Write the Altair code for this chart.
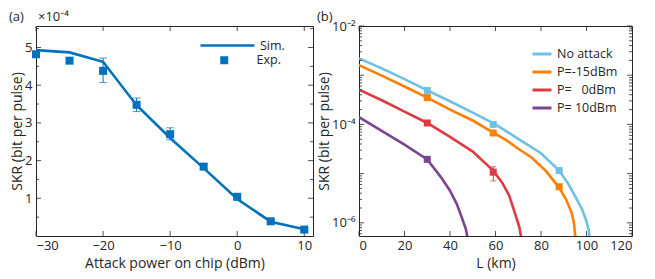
import altair as alt
import pandas as pd

FONT = "Open Sans"
INK = "#262626"
BLUE = "#0072BD"

# ---------------- panel (a) data ----------------
power_dbm = [-30, -25, -20, -15, -10, -5, 0, 5, 10]
sim_skr = [4.93, 4.87, 4.62, 3.47, 2.60, 1.80, 0.98, 0.38, 0.18]
exp_skr = [4.82, 4.65, 4.38, 3.48, 2.70, 1.84, 1.04, 0.39, 0.17]
exp_low = [4.79, 4.61, 4.07, 3.30, 2.55, 1.77, 0.96, 0.36, 0.14]
exp_high = [4.85, 4.69, 4.72, 3.66, 2.87, 1.91, 1.12, 0.42, 0.20]

a_xticks = [-30, -20, -10, 0, 10]
a_yticks = [1, 2, 3, 4, 5]
a_yminor = [0.5, 1.5, 2.5, 3.5, 4.5, 5.5]

# ---------------- panel (b) data ----------------
series_names = ["No attack", "P=-15dBm", "P=\u00a0\u00a0\u00a00dBm", "P=\u00a010dBm"]
series_colors = ["#6EC1E4", "#FF8000", "#DD3A44", "#7B4590"]

L_none = [0, 10, 20, 30, 40, 50, 60, 70, 80, 88, 92, 95, 98, 100, 101, 101.6]
skr_none = [2.2e-3, 1.38e-3, 8.3e-4, 4.9e-4, 2.95e-4, 1.74e-4, 1.0e-4, 5.1e-5,
            2.6e-5, 1.15e-5, 6.2e-6, 3.5e-6, 1.9e-6, 1.07e-6, 7.1e-7, 3.2e-7]
L_m15 = [0, 10, 20, 30, 40, 50, 59, 65, 70, 76, 82, 88, 91, 93.5, 94.5, 95.3]
skr_m15 = [1.6e-3, 9.8e-4, 5.9e-4, 3.5e-4, 2.0e-4, 1.2e-4, 6.8e-5, 4.7e-5,
           3.2e-5, 2.1e-5, 1.15e-5, 5.2e-6, 3.0e-6, 1.6e-6, 9.8e-7, 4.2e-7]
L_0 = [0, 10, 20, 30, 40, 50, 59, 63, 66, 69, 70.5, 71.6]
skr_0 = [5.1e-4, 3.1e-4, 1.82e-4, 1.07e-4, 5.6e-5, 2.8e-5, 1.15e-5, 6.5e-6,
         3.6e-6, 1.35e-6, 8.1e-7, 4.2e-7]
L_10 = [0, 10, 20, 30, 36, 40, 43, 45.5, 47, 48]
skr_10 = [1.4e-4, 7.4e-5, 3.9e-5, 1.95e-5, 8.5e-6, 4.5e-6, 2.4e-6, 1.17e-6, 7.4e-7, 4.2e-7]

mark_series = [0, 0, 0, 1, 1, 1, 2, 2, 3]
mark_L = [30, 59, 88, 30, 59, 88, 30, 59, 30]
mark_skr = [4.9e-4, 1.0e-4, 1.15e-5, 3.5e-4, 6.7e-5, 5.4e-6, 1.07e-4, 1.07e-5, 1.95e-5]
err_series = [2]
err_L = [59]
err_low = [7.1e-6]
err_high = [1.38e-5]

b_xticks = [0, 20, 40, 60, 80, 100, 120]
b_ymajor = [1e-6, 1e-5, 1e-4, 1e-3, 1e-2]
b_yminor = [k * 10.0 ** e for e in (-7, -6, -5, -4, -3) for k in range(2, 10)
            if 5.4e-7 <= k * 10.0 ** e <= 1e-2]

# ---------------- common ----------------
W_A, W_B, H = 277, 273, 210
TICK, MINOR = 5, 3


def inner_ticks(xvals, yvals, yminor, xscale, yscale, xaxis, yaxis, W):
    layers = []
    dx = pd.DataFrame({"x": xvals})
    for y0, y1 in ((H, H - TICK), (0, TICK)):
        layers.append(alt.Chart(dx).mark_rule(color=INK, strokeWidth=0.8).encode(
            x=alt.X("x:Q", scale=xscale, axis=xaxis),
            y=alt.value(y0), y2=alt.value(y1)))
    for vals, ln in ((yvals, TICK), (yminor, MINOR)):
        dy = pd.DataFrame({"y": vals})
        for x0, x1 in ((0, ln), (W, W - ln)):
            layers.append(alt.Chart(dy).mark_rule(color=INK, strokeWidth=0.8).encode(
                y=alt.Y("y:Q", scale=yscale, axis=yaxis),
                x=alt.value(x0), x2=alt.value(x1)))
    return layers


def label_text(txt, dx, dy):
    return alt.Chart(pd.DataFrame({"t": [txt]})).mark_text(
        align="left", baseline="alphabetic", fontSize=13, font=FONT, color=INK).encode(
        text="t:N", x=alt.value(dx), y=alt.value(dy))


# ---------------- panel (a) ----------------
xs_a = alt.Scale(domain=[-30, 11.3], nice=False, zero=False)
ys_a = alt.Scale(domain=[0, 5.57], nice=False, zero=False)
xa_a = alt.Axis(values=a_xticks, title="Attack power on chip (dBm)")
ya_a = alt.Axis(values=a_yticks, title="SKR (bit per pulse)")

df_sim = pd.DataFrame({"P": power_dbm, "SKR": sim_skr, "name": ["Sim."] * len(power_dbm)})
df_exp = pd.DataFrame({"P": power_dbm, "SKR": exp_skr, "lo": exp_low, "hi": exp_high,
                       "name": ["Exp."] * len(power_dbm)})

sim_line = alt.Chart(df_sim).mark_line(strokeWidth=2.6, color=BLUE).encode(
    x=alt.X("P:Q", scale=xs_a, axis=xa_a),
    y=alt.Y("SKR:Q", scale=ys_a, axis=ya_a),
    color=alt.Color("name:N", scale=alt.Scale(domain=["Sim."], range=[BLUE]),
                    legend=alt.Legend(title=None, orient="none", legendX=163, legendY=-9,
                                      symbolType="stroke", symbolStrokeWidth=2.6,
                                      symbolSize=2916, labelOffset=4)),
)
err_a = alt.Chart(df_exp).mark_rule(color=BLUE, strokeWidth=1).encode(
    x=alt.X("P:Q", scale=xs_a, axis=xa_a), y=alt.Y("lo:Q", scale=ys_a, axis=ya_a), y2="hi:Q")
cap_lo = alt.Chart(df_exp).mark_tick(color=BLUE, thickness=1, size=8, orient="horizontal").encode(
    x=alt.X("P:Q", scale=xs_a, axis=xa_a), y=alt.Y("lo:Q", scale=ys_a, axis=ya_a))
cap_hi = alt.Chart(df_exp).mark_tick(color=BLUE, thickness=1, size=8, orient="horizontal").encode(
    x=alt.X("P:Q", scale=xs_a, axis=xa_a), y=alt.Y("hi:Q", scale=ys_a, axis=ya_a))
exp_pts = alt.Chart(df_exp).mark_point(filled=True, size=64, opacity=1, color=BLUE).encode(
    x=alt.X("P:Q", scale=xs_a, axis=xa_a), y=alt.Y("SKR:Q", scale=ys_a, axis=ya_a),
    shape=alt.Shape("name:N", scale=alt.Scale(domain=["Exp."], range=["square"]),
                    legend=alt.Legend(title=None, orient="none", legendX=182, legendY=28,
                                      symbolSize=64, symbolFillColor=BLUE, symbolStrokeColor=BLUE,
                                      labelOffset=26)),
)

panel_a = alt.layer(
    sim_line, *inner_ticks(a_xticks, a_yticks, a_yminor, xs_a, ys_a, xa_a, ya_a, W_A),
    err_a, cap_lo, cap_hi, exp_pts,
    label_text("\u00d710\u207b\u2074", 2, -5), label_text("(a)", -27, -5),
).resolve_legend(color="independent", shape="independent").properties(width=W_A, height=H)

# ---------------- panel (b) ----------------
xs_b = alt.Scale(domain=[0, 120], nice=False, zero=False)
ys_b = alt.Scale(type="log", domain=[5.4e-7, 1e-2], nice=False)
cs_b = alt.Scale(domain=series_names, range=series_colors)

label_expr = ("datum.value >= 0.005 ? '10\u207b\u00b2' : datum.value >= 5e-5 ? "
              "'10\u207b\u2074' : '10\u207b\u2076'")
xa_b = alt.Axis(values=b_xticks, title="L (km)")
ya_b = alt.Axis(values=[1e-6, 1e-4, 1e-2], labelExpr=label_expr, title="SKR (bit per pulse)")

curve_frames = []
for name, Ls, vs in zip(series_names, (L_none, L_m15, L_0, L_10), (skr_none, skr_m15, skr_0, skr_10)):
    curve_frames.append(pd.DataFrame({"L": Ls, "SKR": vs, "series": [name] * len(Ls)}))
df_curves = pd.concat(curve_frames, ignore_index=True)
df_marks = pd.DataFrame({"L": mark_L, "SKR": mark_skr,
                         "series": [series_names[i] for i in mark_series]})
df_err = pd.DataFrame({"L": err_L, "lo": err_low, "hi": err_high,
                       "series": [series_names[i] for i in err_series]})

curves = alt.Chart(df_curves).mark_line(strokeWidth=2.6, clip=True).encode(
    x=alt.X("L:Q", scale=xs_b, axis=xa_b),
    y=alt.Y("SKR:Q", scale=ys_b, axis=ya_b),
    color=alt.Color("series:N", scale=cs_b, sort=series_names,
                    legend=alt.Legend(title=None, orient="none", legendX=172, legendY=17,
                                      symbolType="stroke", symbolStrokeWidth=3, symbolSize=361,
                                      labelOffset=4, rowPadding=-2.5)),
)
err_b = alt.Chart(df_err).mark_rule(strokeWidth=1).encode(
    x=alt.X("L:Q", scale=xs_b, axis=xa_b), y=alt.Y("lo:Q", scale=ys_b, axis=ya_b), y2="hi:Q",
    color=alt.Color("series:N", scale=cs_b, legend=None))
caps_b = [alt.Chart(df_err).mark_tick(thickness=1, size=6, orient="horizontal").encode(
    x=alt.X("L:Q", scale=xs_b, axis=xa_b), y=alt.Y(f"{c}:Q", scale=ys_b, axis=ya_b),
    color=alt.Color("series:N", scale=cs_b, legend=None)) for c in ("lo", "hi")]
pts_b = alt.Chart(df_marks).mark_square(size=49, opacity=1).encode(
    x=alt.X("L:Q", scale=xs_b, axis=xa_b), y=alt.Y("SKR:Q", scale=ys_b, axis=ya_b),
    color=alt.Color("series:N", scale=cs_b, legend=None))

panel_b = alt.layer(
    curves, *inner_ticks(b_xticks, b_ymajor, b_yminor, xs_b, ys_b, xa_b, ya_b, W_B),
    err_b, *caps_b, pts_b, label_text("(b)", -42, -5),
).properties(width=W_B, height=H)

chart = alt.hconcat(panel_a, panel_b, spacing=2).resolve_scale(
    color="independent", shape="independent"
).resolve_legend(color="independent", shape="independent").properties(
    padding={"left": 0, "top": 2, "right": 0, "bottom": 0}
).configure_view(
    stroke=INK, strokeWidth=1
).configure_axis(
    labelFont=FONT, titleFont=FONT, labelFontSize=13, titleFontSize=14,
    labelColor=INK, titleColor=INK, titleFontWeight="normal",
    ticks=False, domain=False, grid=False,
).configure_axisX(labelPadding=3, titlePadding=4).configure_axisY(
    labelPadding=4, titlePadding=0
).configure_legend(
    labelFont=FONT, labelFontSize=12.5, labelColor=INK,
)

chart.save("out.html", embed_options={"renderer": "svg", "actions": False})
